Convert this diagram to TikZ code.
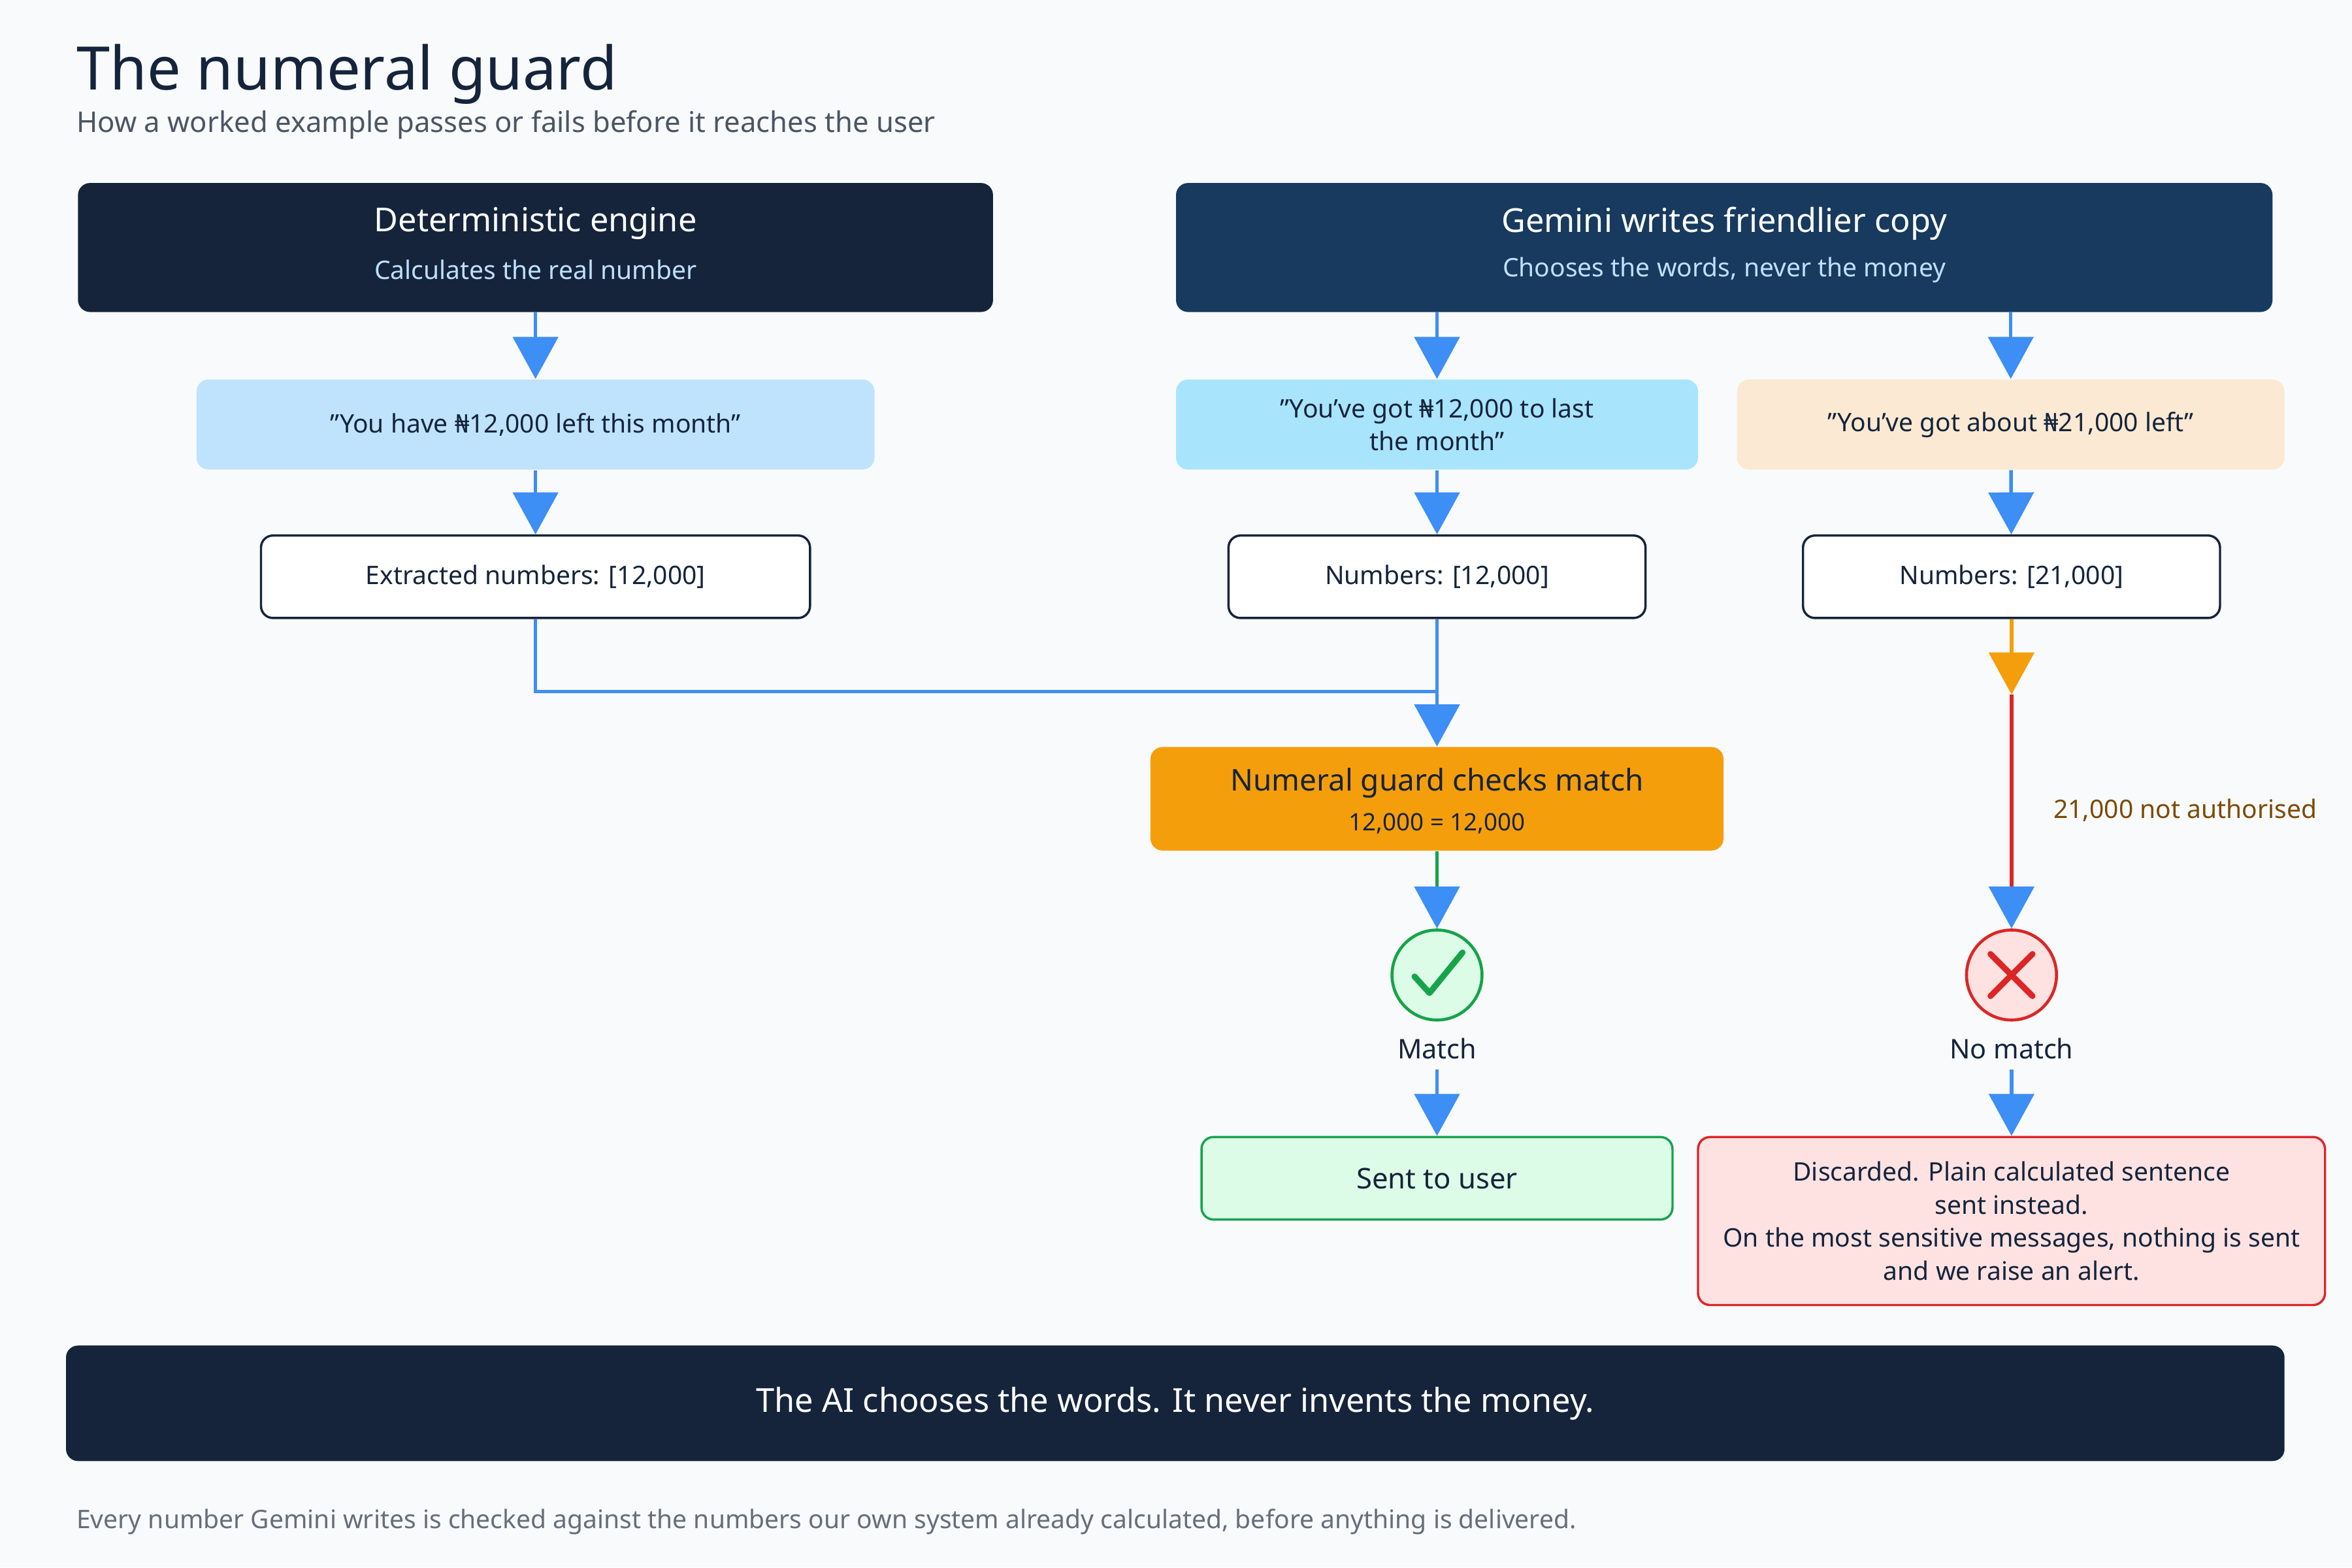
\documentclass[tikz,border=0pt]{standalone}
\usepackage{fontspec}
\setmainfont{Noto Sans}
\usetikzlibrary{arrows.meta}
\definecolor{navy}{HTML}{15243B}
\definecolor{navyb}{HTML}{173A5E}
\definecolor{lblue}{HTML}{BFE0FF}
\definecolor{arrb}{HTML}{3D8EF5}
\definecolor{ca1}{HTML}{BFE3FD}
\definecolor{cb1}{HTML}{A9E4FD}
\definecolor{cc1}{HTML}{FBE9D3}
\definecolor{orng}{HTML}{F59E0B}
\definecolor{gfill}{HTML}{DCFCE7}
\definecolor{gline}{HTML}{16A34A}
\definecolor{rfill}{HTML}{FEE2E2}
\definecolor{rline}{HTML}{DC2626}
\definecolor{grey}{HTML}{4B5563}
\definecolor{brn}{HTML}{7C4A03}
\definecolor{bg}{HTML}{F8FAFC}
\begin{document}
\begin{tikzpicture}[x=0.5pt,y=-0.5pt,
  box/.style={rounded corners=4pt,inner sep=0pt,align=center,font=\fontsize{8.5}{11}\selectfont},
  arr/.style={draw=arrb,line width=1.2pt,-{Triangle[width=15pt,length=14pt]}},
  ln/.style={draw=arrb,line width=1.2pt}]
\useasboundingbox[fill=bg] (0,0) rectangle (1568,1045);
\node[anchor=base west,text=navy,font=\fontsize{20}{24}\selectfont\bfseries] (title) at (44,60) {The numeral guard};
\node[anchor=base west,text=grey,font=\fontsize{9.5}{12}\selectfont] (sub) at (44,88) {How a worked example passes or fails before it reaches the user};
\node[box,fill=navy,minimum width=305pt,minimum height=43pt] (A) at (357,165) {};
\node[text=white,font=\fontsize{11}{13}\selectfont\bfseries] at (357,149) {Deterministic engine};
\node[text=lblue,font=\fontsize{8.5}{11}\selectfont] at (357,180) {Calculates the real number};
\node[box,fill=navyb,minimum width=365.5pt,minimum height=43pt] (B) at (1149.5,165) {};
\node[text=white,font=\fontsize{11}{13}\selectfont\bfseries] at (1149.5,149) {Gemini writes friendlier copy};
\node[text=lblue,font=\fontsize{8.5}{11}\selectfont] at (1149.5,180) {Chooses the words, never the money};
\node[box,fill=ca1,text=navy,minimum width=226pt,minimum height=30pt] (A1) at (357,283) {"You have ₦12,000 left this month"};
\node[box,fill=cb1,text=navy,minimum width=174pt,minimum height=30pt] (B1) at (958,283) {"You've got ₦12,000 to last\\the month"};
\node[box,fill=cc1,text=navy,minimum width=182.5pt,minimum height=30pt] (C1) at (1340.5,283) {"You've got about ₦21,000 left"};
\node[box,fill=white,draw=navy,line width=0.75pt,text=navy,font=\fontsize{8.5}{11}\selectfont\bfseries,minimum width=183pt,minimum height=27.5pt] (A2) at (357,384.5) {Extracted numbers: [12,000]};
\node[box,fill=white,draw=navy,line width=0.75pt,text=navy,font=\fontsize{8.5}{11}\selectfont\bfseries,minimum width=139pt,minimum height=27.5pt] (B2) at (958,384.5) {Numbers: [12,000]};
\node[box,fill=white,draw=navy,line width=0.75pt,text=navy,font=\fontsize{8.5}{11}\selectfont\bfseries,minimum width=139pt,minimum height=27.5pt] (C2) at (1341,384.5) {Numbers: [21,000]};
\node[box,fill=orng,minimum width=191pt,minimum height=34.5pt] (G) at (958,532.5) {};
\node[text=navy,font=\fontsize{10}{12}\selectfont\bfseries] at (958,522) {Numeral guard checks match};
\node[text=navy,font=\fontsize{8}{10}\selectfont] at (958,549) {12,000 = 12,000};
\node[circle,fill=gfill,draw=gline,line width=1pt,minimum size=30pt,inner sep=0pt] (OK) at (958,650) {};
\draw[gline,line width=2pt,line cap=round,line join=round] (943,651) -- (953,662) -- (975,635);
\node[circle,fill=rfill,draw=rline,line width=1pt,minimum size=30pt,inner sep=0pt] (NO) at (1341,650) {};
\draw[rline,line width=2pt,line cap=round] (1327,636) -- (1355,664) (1355,636) -- (1327,664);
\node[text=navy,font=\fontsize{9}{11}\selectfont\bfseries] (ML) at (958,699) {Match};
\node[text=navy,font=\fontsize{9}{11}\selectfont\bfseries] (NL) at (1341,699) {No match};
\node[box,fill=gfill,draw=gline,line width=0.75pt,text=navy,font=\fontsize{9.5}{11}\selectfont\bfseries,minimum width=157pt,minimum height=27.5pt] (S) at (958,785.5) {Sent to user};
\node[box,fill=rfill,draw=rline,line width=0.75pt,text=navy,minimum width=209pt,minimum height=56pt] (D) at (1341,814) {{\bfseries Discarded. Plain calculated sentence}\\{\bfseries sent instead.}\\On the most sensitive messages, nothing is sent\\and we raise an alert.};
\node[box,fill=navy,text=white,font=\fontsize{11}{13}\selectfont\bfseries,minimum width=739.5pt,minimum height=38.5pt] (BAN) at (783.5,935.5) {The AI chooses the words. It never invents the money.};
\node[anchor=base west,text=grey!85,font=\fontsize{8.5}{11}\selectfont] (foot) at (44,1019) {Every number Gemini writes is checked against the numbers our own system already calculated, before anything is delivered.};
% connectors
\draw[arr] (A) -- (A1);
\draw[arr] (A1) -- (A2);
\draw[arr] (B.south -| B1) -- (B1);
\draw[arr] (B.south -| C1) -- (C1);
\draw[arr] (B1) -- (B2);
\draw[arr] (C1) -- (C2);
\coordinate (J) at (357,461);
\draw[ln] (A2) -- (J) -- (958,461);
\draw[arr] (B2) -- (G);
\coordinate (g1) at (958,593);
\draw[gline,line width=1.2pt] (G) -- (g1);
\draw[arr] (g1) -- (OK);
\coordinate (o1) at (1341,436);
\coordinate (o2) at (1341,463);
\coordinate (r1) at (1341,593);
\draw[orng,line width=1.2pt,-{Triangle[width=15pt,length=14pt]}] (C2) -- (o2);
\draw[rline,line width=1.2pt] (o2) -- (r1);
\draw[arr] (r1) -- (NO);
\node[anchor=west,text=brn,font=\fontsize{8.5}{11}\selectfont] (lab) at (1362,540) {21,000 not authorised};
\draw[arr] (ML) -- (S);
\draw[arr] (NL) -- (D);
\end{tikzpicture}
\end{document}
